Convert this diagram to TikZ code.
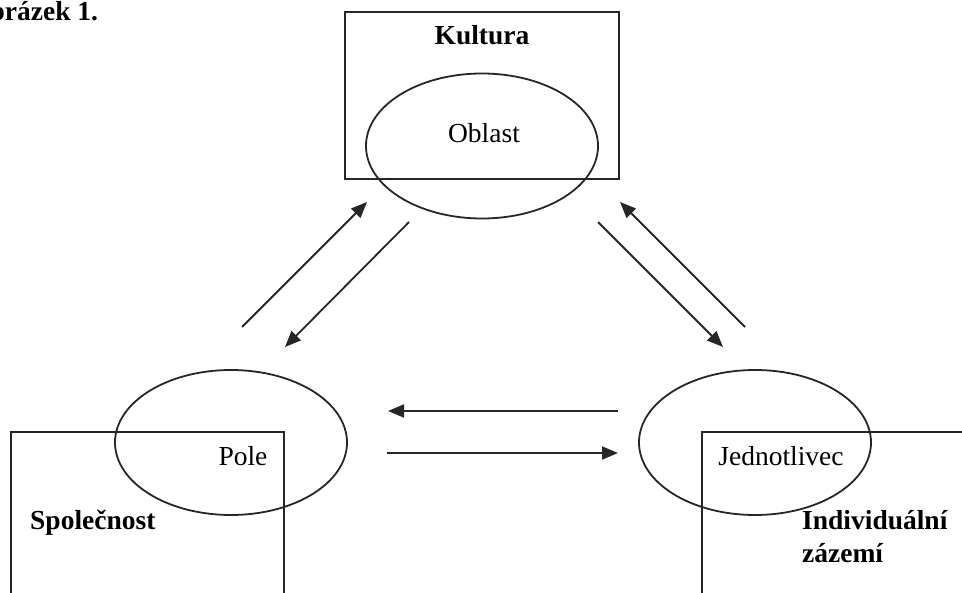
\documentclass[tikz,border=0pt]{standalone}
\usepackage{fontspec}
\setmainfont{Liberation Serif}
\usetikzlibrary{shapes.geometric,arrows.meta}
\begin{document}
\begin{tikzpicture}[x=1pt,y=-1pt,
  frame/.style={draw=black!85,line width=1.8pt,rectangle,inner sep=0pt},
  oval/.style={draw=black!85,line width=1.8pt,ellipse,inner sep=0pt,minimum width=232pt,minimum height=145pt},
  lbl/.style={inner sep=0pt,font=\fontsize{27.5}{30}\selectfont},
  blbl/.style={inner sep=0pt,font=\fontsize{27.5}{30}\selectfont\bfseries},
  arr/.style={draw=black!85,line width=1.8pt,-{Triangle[length=16pt,width=13pt]}}]
\useasboundingbox (0,0) rectangle (962,593);
\clip (0,0) rectangle (962,593);
% title
\node[blbl,anchor=base west] (title) at (-32,21) {Obrázek 1.};
% frames
\node[frame,minimum width=274pt,minimum height=167pt] (kulturabox) at (482,95.5) {};
\node[frame,minimum width=273pt,minimum height=180pt] (spolbox) at (147.5,522) {};
\node[frame,minimum width=280pt,minimum height=180pt] (indbox) at (842,522) {};
% ellipses
\node[oval] (oblast) at (482,146) {};
\node[oval] (pole) at (231,442.5) {};
\node[oval] (jedn) at (755,442.5) {};
% labels
\node[blbl,anchor=base] (tkult) at (482,45) {Kultura};
\node[lbl,anchor=base] (tobl) at (484,143) {Oblast};
\node[lbl,anchor=base] (tpole) at (243,466) {Pole};
\node[blbl,anchor=base west] (tspol) at (30,530) {Společnost};
\node[lbl,anchor=base] (tjedn) at (781,466) {Jednotlivec};
\node[blbl,anchor=base west] (tind) at (802,530) {Individuální};
\node[blbl,anchor=base west] (tzaz) at (802,562) {zázemí};
% arrow endpoints
\coordinate (a1s) at (242,327); \coordinate (a1e) at (367,202);
\coordinate (a2s) at (409,222); \coordinate (a2e) at (285,347);
\coordinate (a3s) at (598,222); \coordinate (a3e) at (723,347);
\coordinate (a4s) at (745,327); \coordinate (a4e) at (620,202);
\coordinate (a5s) at (618,411); \coordinate (a5e) at (388,411);
\coordinate (a6s) at (387,453); \coordinate (a6e) at (618,453);
\draw[arr] (a1s) -- (a1e);
\draw[arr] (a2s) -- (a2e);
\draw[arr] (a3s) -- (a3e);
\draw[arr] (a4s) -- (a4e);
\draw[arr] (a5s) -- (a5e);
\draw[arr] (a6s) -- (a6e);
\end{tikzpicture}
\end{document}
